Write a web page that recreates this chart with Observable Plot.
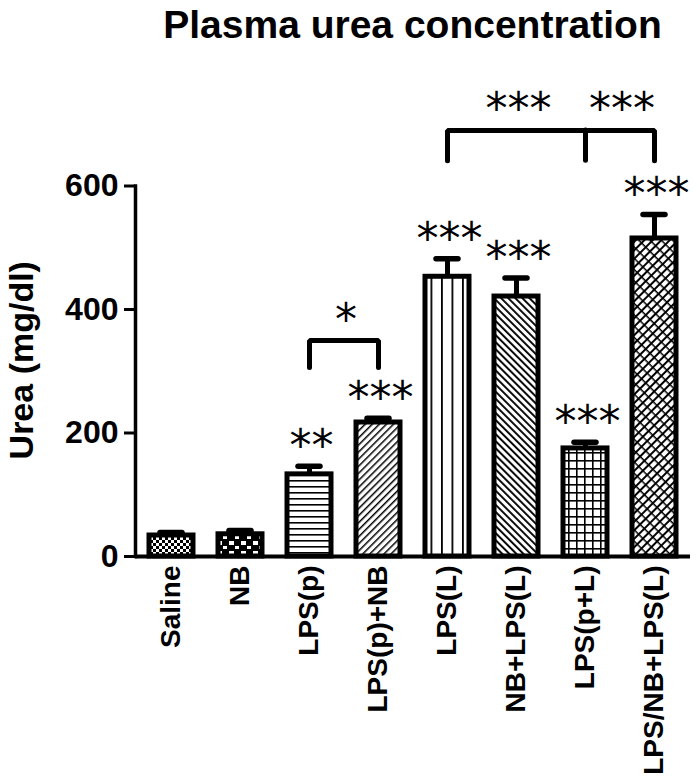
<!DOCTYPE html>
<html><head><meta charset="utf-8">
<script src="https://cdn.jsdelivr.net/npm/d3@7"></script>
<script src="https://cdn.jsdelivr.net/npm/@observablehq/plot@0.6"></script>
<style>
body{margin:0;background:#fff;font-family:"Liberation Sans",Arial,sans-serif;}
#title{height:60px;box-sizing:border-box;padding-top:5px;padding-left:135px;width:690px;text-align:center;font-size:39px;font-weight:bold;line-height:39px;color:#000;}
g[aria-label="sig"] text, g[aria-label="bracket-sig"] text{letter-spacing:4px;}
</style></head><body>
<div id="title">Plasma urea concentration</div>
<div id="chart"></div>
<script>
// ---- data ----
const categories = ["Saline","NB","LPS(p)","LPS(p)+NB","LPS(L)","NB+LPS(L)","LPS(p+L)","LPS/NB+LPS(L)"];
const means = [34, 36, 133, 217, 453, 421, 175, 515];
const sems  = [5, 6, 13, 7, 29, 30, 10, 39];
const stars = ["", "", "**", "***", "***", "***", "***", "***"];
const patternIds = ["checkFine","checkCoarse","hLines","fwdDiag","vLines","backDiag","grid","brick"];
const yTicks = [0, 200, 400, 600];
const yLabel = "Urea (mg/dl)";
// significance brackets (between groups)
const brackets = [
  {from: "LPS(p)", to: "LPS(p)+NB", top: 350, foot: 306},
  {from: "LPS(L)", to: "LPS/NB+LPS(L)", top: 690, foot: 641, mid: "LPS(p+L)"}
];
const bracketLabels = [
  {from: "LPS(p)", to: "LPS(p)+NB", y: 398, text: "*"},
  {from: "LPS(L)", to: "LPS(p+L)", y: 740, text: "***"},
  {from: "LPS(p+L)", to: "LPS/NB+LPS(L)", y: 740, text: "***"}
];

const data = categories.map((c, i) => ({cat: c, mean: means[i], sem: sems[i], top: means[i] + sems[i], star: stars[i], pat: patternIds[i]}));

const W = 699, H = 718, mL = 135, mR = 9, mT = 125.5, mB = 222;
const padIn = 0.36, padOut = 0.2;
const step = (W - mL - mR) / (categories.length - padIn + 2 * padOut);
const idx = c => categories.indexOf(c);

const bracketLines = brackets.map(b => Plot.line(
  [{x: b.from, y: b.foot}, {x: b.from, y: b.top}, {x: b.to, y: b.top}, {x: b.to, y: b.foot}],
  {x: "x", y: "y", stroke: "black", strokeWidth: 5, strokeLinecap: "round", strokeLinejoin: "miter"}
));
const bracketMids = brackets.filter(b => b.mid).map(b => Plot.ruleX([b], {x: "mid", y1: "foot", y2: "top", stroke: "black", strokeWidth: 5, strokeLinecap: "round"}));
const bracketText = bracketLabels.map(l => Plot.text([l], {
  x: "from", y: "y", text: "text", dx: (idx(l.to) - idx(l.from)) * step / 2 + 2, dy: 10,
  fontSize: 44, fontFamily: "DejaVu Sans", fill: "black", ariaLabel: "bracket-sig"
}));

const plot = Plot.plot({
  width: W, height: H,
  marginLeft: mL, marginRight: mR, marginTop: mT, marginBottom: mB,
  style: {fontFamily: '"Liberation Sans", Arial, sans-serif', color: "black", background: "white", overflow: "visible"},
  x: {domain: categories, paddingInner: padIn, paddingOuter: padOut, label: null},
  y: {domain: [0, 600], label: null},
  marks: [
    ...data.map(d => Plot.barY([d], {x: "cat", y: "mean", fill: `url(#${d.pat})`, stroke: "black", strokeWidth: 5})),
    Plot.ruleX(data, {x: "cat", y1: "mean", y2: "top", stroke: "black", strokeWidth: 5}),
    Plot.tickY(data, {x: "cat", y: "top", stroke: "black", strokeWidth: 5.5, insetLeft: 11, insetRight: 11, strokeLinecap: "round"}),
    Plot.ruleY([0], {stroke: "black", strokeWidth: 4}),
    Plot.frame({anchor: "left", stroke: "black", strokeWidth: 3.5}),
    Plot.axisY({ticks: yTicks, tickSize: 11, tickPadding: 6, fontSize: 32, fontWeight: "bold", strokeWidth: 3, label: null}),
    Plot.axisX({tickSize: 0, tickPadding: 9, tickRotate: -90, fontSize: 28, fontWeight: "bold", label: null}),
    Plot.text([yLabel], {frameAnchor: "left", textAnchor: "middle", rotate: -90, dx: -113, dy: -11, fontSize: 34, fontWeight: "bold", fill: "black"}),
    Plot.text(data, {x: "cat", y: "top", text: "star", dx: 2, dy: -19, fontSize: 44, fontFamily: "DejaVu Sans", fill: "black", ariaLabel: "sig"}),
    ...bracketLines,
    ...bracketMids,
    ...bracketText
  ]
});

// pattern definitions
const ns = "http://www.w3.org/2000/svg";
const defs = document.createElementNS(ns, "defs");
defs.innerHTML = `
<pattern id="checkFine" patternUnits="userSpaceOnUse" width="6" height="6">
  <rect width="6" height="6" fill="white"/><rect x="0" y="0" width="3" height="3" fill="black"/><rect x="3" y="3" width="3" height="3" fill="black"/>
</pattern>
<pattern id="checkCoarse" patternUnits="userSpaceOnUse" width="12" height="10">
  <rect width="12" height="10" fill="black"/><rect x="1" y="1" width="5" height="4" fill="white"/><rect x="7" y="6" width="4" height="3" fill="white"/>
</pattern>
<pattern id="hLines" patternUnits="userSpaceOnUse" width="6" height="6">
  <rect width="6" height="6" fill="white"/><rect x="0" y="0" width="6" height="1.6" fill="black"/>
</pattern>
<pattern id="fwdDiag" patternUnits="userSpaceOnUse" width="5" height="5" patternTransform="rotate(45)">
  <rect width="5" height="5" fill="white"/><rect x="0" y="0" width="1.5" height="5" fill="black"/>
</pattern>
<pattern id="vLines" patternUnits="userSpaceOnUse" width="10.5" height="10">
  <rect width="10.5" height="10" fill="white"/><rect x="0" y="0" width="1.8" height="10" fill="black"/>
</pattern>
<pattern id="backDiag" patternUnits="userSpaceOnUse" width="5" height="5" patternTransform="rotate(-45)">
  <rect width="5" height="5" fill="white"/><rect x="0" y="0" width="1.9" height="5" fill="black"/>
</pattern>
<pattern id="grid" patternUnits="userSpaceOnUse" width="8" height="8">
  <rect width="8" height="8" fill="white"/><rect x="0" y="0" width="8" height="1.6" fill="black"/><rect x="0" y="0" width="1.6" height="8" fill="black"/>
</pattern>
<pattern id="brick" patternUnits="userSpaceOnUse" width="6" height="8" patternTransform="rotate(45)">
  <rect width="6" height="8" fill="white"/><rect x="0" y="0" width="2" height="8" fill="black"/><rect x="2" y="3" width="4" height="1.5" fill="black"/>
</pattern>`;
plot.insertBefore(defs, plot.firstChild);
document.getElementById("chart").appendChild(plot);
</script></body></html>
